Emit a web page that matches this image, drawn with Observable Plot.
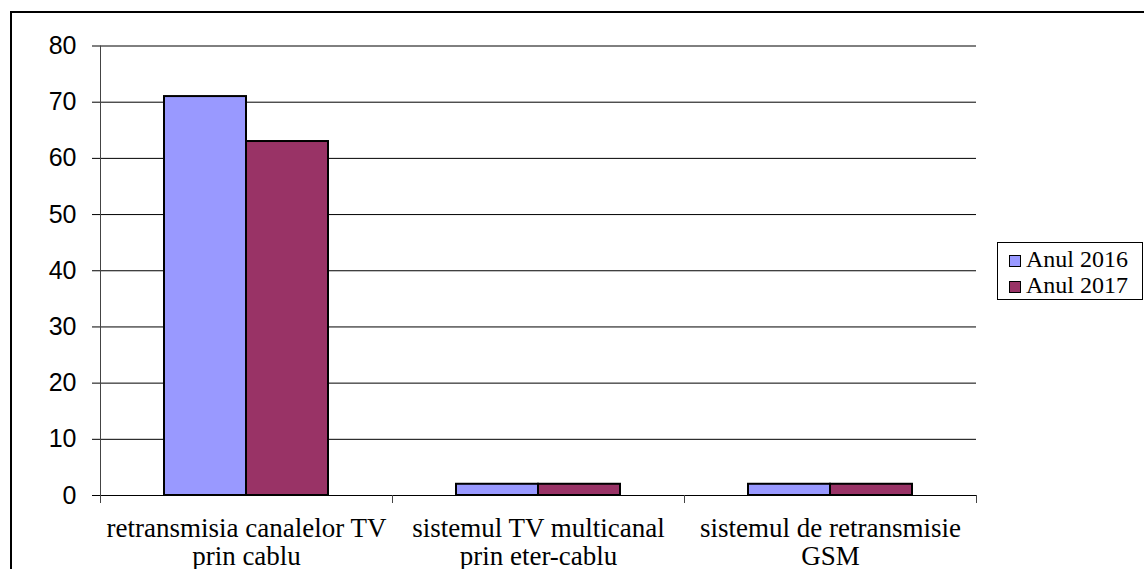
<!DOCTYPE html>
<html>
<head>
<meta charset="utf-8">
<script src="https://cdn.jsdelivr.net/npm/d3@7"></script>
<script src="https://cdn.jsdelivr.net/npm/@observablehq/plot@0.6"></script>
<style>
  body { margin: 0; background: #fff; }
  #wrap { position: relative; width: 1144px; height: 569px; overflow: hidden; background: #fff; }
  #border { position: absolute; left: 10px; top: 11px; width: 3000px; height: 3000px;
            border-left: 2px solid #000; border-top: 2px solid #000; }
  #chart { position: absolute; left: 0; top: 0; }
  #legend { position: absolute; left: 997px; top: 242px; width: 144px; height: 56px;
            border: 1px solid #000; background: #fff; font-family: "Liberation Serif", serif;
            font-size: 24px; color: #000; }
  .row { position: absolute; left: 11px; height: 26px; line-height: 26px; white-space: nowrap; }
  .sw { display: inline-block; width: 10px; height: 10px; border: 1.5px solid #000;
        margin-right: 5px; vertical-align: 0px; }
</style>
</head>
<body>
<div id="wrap">
  <div id="border"></div>
  <div id="chart"></div>
  <div id="legend"></div>
</div>
<script>
const categories = [
  "retransmisia canalelor TV\nprin cablu",
  "sistemul TV multicanal\nprin eter-cablu",
  "sistemul de retransmisie\nGSM"
];
const series = ["Anul 2016", "Anul 2017"];
const values2016 = [71, 2, 2];
const values2017 = [63, 2, 2];
const yTicks = [0, 10, 20, 30, 40, 50, 60, 70, 80];
const colors = ["#9999FF", "#993366"];

const data = categories.flatMap((c, i) => [
  {cat: c, series: series[0], value: values2016[i]},
  {cat: c, series: series[1], value: values2017[i]}
]);

const chart = Plot.plot({
  width: 1144,
  height: 569,
  marginLeft: 99,
  marginRight: 168,
  marginTop: 45.5,
  marginBottom: 74,
  style: {background: "transparent", overflow: "visible", color: "#000"},
  fx: {domain: categories, padding: 0, label: null},
  x: {domain: series, paddingInner: 0, paddingOuter: 0.763, axis: null},
  y: {domain: [0, 80], label: null},
  color: {domain: series, range: colors},
  marks: [
    Plot.ruleY(yTicks, {stroke: "#000", strokeWidth: 1}),
    Plot.frame({anchor: "left", facetAnchor: "left", stroke: "#444", strokeWidth: 1}),
    Plot.frame({anchor: "left", insetTop: 449.5, insetBottom: -7, stroke: "#444", strokeWidth: 1}),
    Plot.frame({anchor: "right", facetAnchor: "right", insetTop: 449.5, insetBottom: -7, stroke: "#444", strokeWidth: 1}),
    Plot.barY(data, {fx: "cat", x: "series", y: "value", fill: "series", stroke: "#000", strokeWidth: 2}),
    Plot.axisY(yTicks, {tickSize: 8, tickPadding: 16, fontSize: 25, fontFamily: "Liberation Sans", stroke: "#000", label: null}),
    Plot.axisFx({anchor: "bottom", tickSize: 0, tickPadding: 21, fontSize: 27, fontFamily: "Liberation Serif", lineHeight: 1.05, label: null})
  ]
});
document.getElementById("chart").appendChild(chart);

const legend = document.getElementById("legend");
series.forEach((s, i) => {
  const row = document.createElement("div");
  row.className = "row";
  row.style.top = (3 + i * 26) + "px";
  const sw = document.createElement("span");
  sw.className = "sw";
  sw.style.background = colors[i];
  row.appendChild(sw);
  row.appendChild(document.createTextNode(s));
  legend.appendChild(row);
});
</script>
</body>
</html>
